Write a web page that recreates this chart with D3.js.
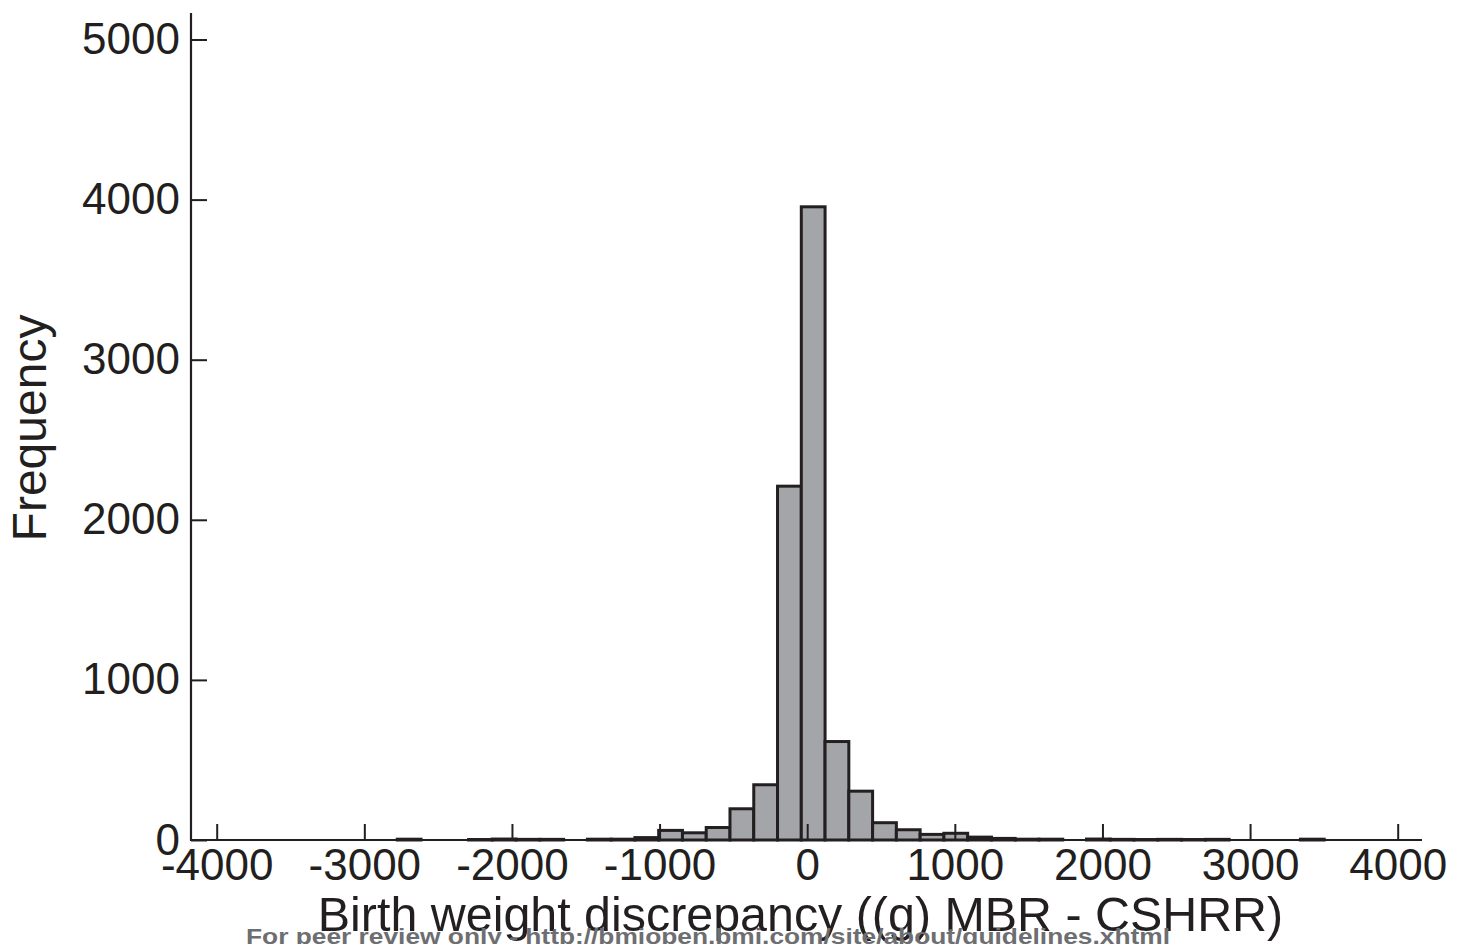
<!DOCTYPE html>
<html>
<head>
<meta charset="utf-8">
<script src="https://cdn.jsdelivr.net/npm/d3@7"></script>
<style>
  html, body { margin: 0; padding: 0; background: #ffffff; }
  svg { display: block; }
  text { font-family: "Liberation Sans", Arial, Helvetica, sans-serif; }
</style>
</head>
<body>
<svg id="chart" width="1465" height="944"></svg>
<script>
// Histogram bins: lower edge (g) and frequency
const binWidth = 161;
const binLower = [-2777, -2294, -2133, -1972, -1811, -1489, -1328, -1167,
  -1006, -845, -684, -523, -362, -201, -40, 121, 282, 443, 604, 765, 926,
  1087, 1248, 1409, 1570, 1892, 2053, 2214, 2375, 2536, 2697, 3341];
const binCount = [5, 3, 6, 4, 4, 5, 5, 15,
  60, 45, 78, 195, 345, 2210, 3955, 615, 305, 108, 64, 35, 42,
  18, 10, 5, 5, 6, 4, 3, 4, 3, 4, 5];

const xTicks = [-4000, -3000, -2000, -1000, 0, 1000, 2000, 3000, 4000];
const yTicks = [0, 1000, 2000, 3000, 4000, 5000];

const xTitle = "Birth weight discrepancy ((g) MBR - CSHRR)";
const yTitle = "Frequency";
const footer = "For peer review only - http://bmjopen.bmj.com/site/about/guidelines.xhtml";

const svg = d3.select("#chart");
const ink = "#231f20";

const x = d3.scaleLinear().domain([-4000, 4000]).range([216.7, 1397.7]);
const y = d3.scaleLinear().domain([0, 5000]).range([840, 39.5]);

const bins = binLower.map((lo, i) => ({ lo, hi: lo + binWidth, n: binCount[i] }));

// bars
svg.append("g").selectAll("rect").data(bins).join("rect")
  .attr("x", d => x(d.lo))
  .attr("width", d => x(d.hi) - x(d.lo))
  .attr("y", d => y(d.n))
  .attr("height", d => y(0) - y(d.n))
  .attr("fill", "#a4a5a9")
  .attr("stroke", ink)
  .attr("stroke-width", 3);

// x axis
const gx = svg.append("g").attr("transform", `translate(0,${y(0)})`)
  .call(d3.axisBottom(x).tickValues(xTicks).tickSize(-16).tickSizeOuter(0).tickPadding(9)
    .tickFormat(d3.format("d")));
gx.select(".domain").remove();
gx.selectAll(".tick line").attr("stroke", ink).attr("stroke-width", 2);
gx.selectAll(".tick text").attr("fill", ink).attr("font-size", 44)
  .attr("font-family", "Liberation Sans, Arial, sans-serif")
  .text(d => d < 0 ? "-" + Math.abs(d) : String(d));
gx.append("line").attr("x1", 191).attr("x2", 1422).attr("y1", 0).attr("y2", 0)
  .attr("stroke", ink).attr("stroke-width", 2.2);

// y axis
const gy = svg.append("g").attr("transform", "translate(191,0)")
  .call(d3.axisLeft(y).tickValues(yTicks).tickSize(-16).tickSizeOuter(0).tickPadding(11)
    .tickFormat(d3.format("d")));
gy.select(".domain").remove();
gy.selectAll(".tick line").attr("stroke", ink).attr("stroke-width", 2);
gy.selectAll(".tick text").attr("fill", ink).attr("font-size", 44)
  .attr("font-family", "Liberation Sans, Arial, sans-serif");
gy.append("line").attr("x1", 0).attr("x2", 0).attr("y1", 13).attr("y2", y(0) + 1)
  .attr("stroke", ink).attr("stroke-width", 2.2);

// titles
svg.append("text").attr("x", 800.5).attr("y", 931)
  .attr("text-anchor", "middle").attr("font-size", 48.4).attr("fill", ink)
  .text(xTitle);
svg.append("text").attr("transform", "translate(46,428) rotate(-90)")
  .attr("text-anchor", "middle").attr("font-size", 48).attr("fill", ink)
  .text(yTitle);

// footer
svg.append("text").attr("x", 246).attr("y", 944)
  .attr("font-size", 22).attr("font-weight", "bold").attr("fill", "#6d6e71")
  .attr("textLength", 924).attr("lengthAdjust", "spacingAndGlyphs")
  .text(footer);
</script>
</body>
</html>
